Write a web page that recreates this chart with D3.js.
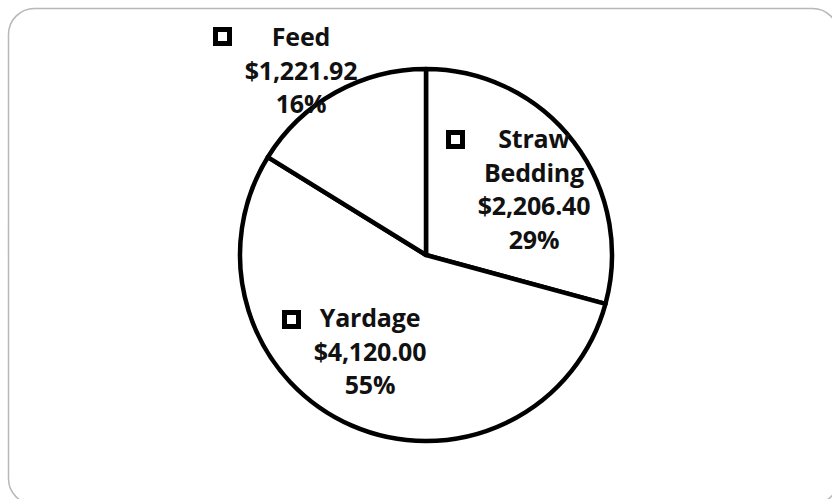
<!DOCTYPE html>
<html>
<head>
<meta charset="utf-8">
<script src="https://cdn.jsdelivr.net/npm/d3@7"></script>
<style>
  html, body { margin: 0; padding: 0; background: #fff; }
  svg { display: block; }
  text { font-family: "Open Sans", Lato, sans-serif; font-weight: bold; fill: #111; }
</style>
</head>
<body>
<svg id="chart" width="832" height="499"></svg>
<script>
// Cost breakdown
const categories = ["Straw Bedding", "Yardage", "Feed"];
const values = [2206.40, 4120.00, 1221.92];
const nameLines = [["Straw", "Bedding"], ["Yardage"], ["Feed"]];

// Label layout: centre x of the text block, baseline of the first line,
// and the top-left corner of the legend key square.
const labelLayout = [
  { cx: 534, y0: 148, key: [446, 130] },
  { cx: 370, y0: 327, key: [282, 310] },
  { cx: 301, y0: 46,  key: [213, 27] }
];

const cx = 426, cy = 255, R = 186;
const lineH = 33.5;

const svg = d3.select("#chart");

// Outer frame with rounded corners
svg.append("rect")
  .attr("x", 8.5).attr("y", 8.5)
  .attr("width", 830).attr("height", 496)
  .attr("rx", 26).attr("ry", 26)
  .attr("fill", "#fff")
  .attr("stroke", "#b8b8b8")
  .attr("stroke-width", 1.5);

const total = d3.sum(values);
const pie = d3.pie().sort(null).value(d => d)(values);
const arc = d3.arc().innerRadius(0).outerRadius(R);

const g = svg.append("g").attr("transform", `translate(${cx},${cy})`);
g.selectAll("path.slice")
  .data(pie)
  .join("path")
  .attr("class", "slice")
  .attr("d", arc)
  .attr("fill", "#fff")
  .attr("stroke", "#000")
  .attr("stroke-width", 4.5)
  .attr("stroke-linejoin", "round");

const money = d3.format("$,.2f");
const pct = d3.format(".0%");

categories.forEach((c, i) => {
  const L = labelLayout[i];
  const lines = nameLines[i].concat([money(values[i]), pct(values[i] / total)]);
  const t = svg.append("text")
    .attr("text-anchor", "middle")
    .attr("font-size", 25)
    .attr("letter-spacing", -0.2);
  lines.forEach((s, j) => {
    t.append("tspan")
      .attr("x", L.cx)
      .attr("y", L.y0 + j * lineH)
      .text(s);
  });
  svg.append("rect")
    .attr("x", L.key[0] + 2.5).attr("y", L.key[1] + 2.5)
    .attr("width", 14).attr("height", 14)
    .attr("fill", "#fff")
    .attr("stroke", "#000")
    .attr("stroke-width", 5);
});
</script>
</body>
</html>
